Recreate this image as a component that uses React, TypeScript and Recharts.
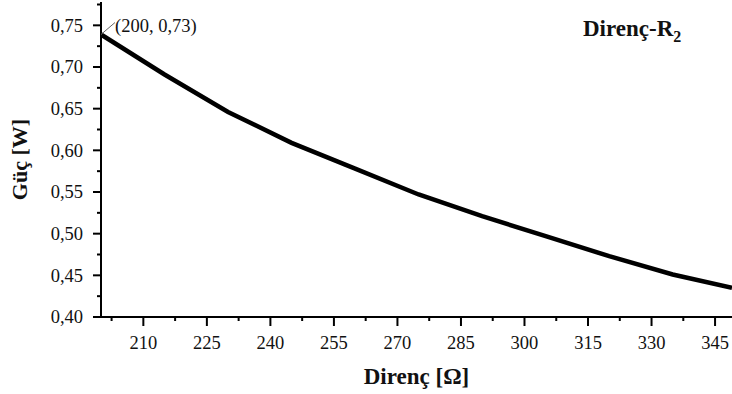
import React from "react";
import { LineChart, Line, XAxis, YAxis, ReferenceDot, Label } from "recharts";

const resistance = [200, 215, 230, 245, 260, 275, 290, 305, 320, 335, 349];
const power = [0.739, 0.691, 0.646, 0.609, 0.578, 0.547, 0.521, 0.497, 0.473, 0.451, 0.435];
const xMajorTicks = [210, 225, 240, 255, 270, 285, 300, 315, 330, 345];
const xMinorTicks = [202.5, 217.5, 232.5, 247.5, 262.5, 277.5, 292.5, 307.5, 322.5, 337.5];
const yMajorTicks = [0.4, 0.45, 0.5, 0.55, 0.6, 0.65, 0.7, 0.75];
const yMinorTicks = [0.425, 0.475, 0.525, 0.575, 0.625, 0.675, 0.725, 0.775];
const xLabel = "Direnç [Ω]";
const yLabel = "Güç [W]";
const annotation = "(200, 0,73)";
const seriesName = "Direnç-R";
const seriesSub = "2";

const data = resistance.map((r, i) => ({ r, p: power[i] }));
const FONT = "Times New Roman, Liberation Serif, DejaVu Serif, serif";

const isMajor = (v: number, list: number[]) => list.some((t) => Math.abs(t - v) < 1e-6);

const XTick = (props: any) => {
  const { x, y, payload } = props;
  const major = isMajor(payload.value, xMajorTicks);
  return (
    <g>
      <line x1={x} y1={y} x2={x} y2={y + (major ? 9 : 4)} stroke="#000" strokeWidth={2} />
      {major && (
        <text x={x} y={y + 32} textAnchor="middle" style={{ fontFamily: FONT }} fontSize={18.5} fill="#111">
          {payload.value}
        </text>
      )}
    </g>
  );
};

const YTick = (props: any) => {
  const { x, y, payload } = props;
  const major = isMajor(payload.value, yMajorTicks);
  return (
    <g>
      <line x1={x} y1={y} x2={x - (major ? 8 : 4)} y2={y} stroke="#000" strokeWidth={2} />
      {major && (
        <text x={x - 18} y={y} dy="0.35em" textAnchor="end" style={{ fontFamily: FONT }} fontSize={18.5} fill="#111">
          {payload.value.toFixed(2).replace(".", ",")}
        </text>
      )}
    </g>
  );
};

const AnnotationShape = (props: any) => {
  const { cx, cy } = props;
  if (cx == null || cy == null) return null;
  return (
    <g>
      <line x1={cx} y1={cy} x2={cx + 14} y2={cy - 12} stroke="#666" strokeWidth={1} />
      <text x={cx + 14} y={cy - 3} style={{ fontFamily: FONT }} fontSize={18.5} fill="#111">
        {annotation}
      </text>
    </g>
  );
};

export default function App() {
  const xTicks = [...xMinorTicks, ...xMajorTicks].sort((a, b) => a - b);
  const yTicks = [...yMinorTicks, ...yMajorTicks].sort((a, b) => a - b);
  return (
    <div style={{ position: "absolute", left: 0, top: 0, width: 732, height: 394, background: "#fff", fontFamily: FONT }}>
      <LineChart width={732} height={394} data={data} margin={{ top: 2, right: 0, bottom: 0, left: 0 }}>
        <XAxis
          dataKey="r"
          type="number"
          domain={[200, 349]}
          allowDataOverflow
          ticks={xTicks}
          interval={0}
          tickSize={0}
          tickMargin={0}
          tickLine={false}
          tick={<XTick />}
          height={77}
          axisLine={{ stroke: "#000", strokeWidth: 2 }}
        >
          <Label
            value={xLabel}
            position="insideBottom"
            offset={10}
            style={{ fontFamily: FONT, fontSize: 23, fontWeight: "bold", fill: "#111" }}
          />
        </XAxis>
        <XAxis
          xAxisId="top"
          orientation="top"
          type="number"
          domain={[200, 349]}
          height={0}
          tick={false}
          tickLine={false}
          axisLine={{ stroke: "#808080", strokeWidth: 2 }}
        />
        <YAxis
          type="number"
          domain={[0.4, 0.778]}
          allowDataOverflow
          ticks={yTicks}
          interval={0}
          tickSize={0}
          tickMargin={0}
          tickLine={false}
          tick={<YTick />}
          width={101}
          axisLine={{ stroke: "#000", strokeWidth: 2 }}
        >
          <Label
            value={yLabel}
            angle={-90}
            position="insideLeft"
            offset={19}
            style={{ fontFamily: FONT, fontSize: 22, fontWeight: "bold", fill: "#111", textAnchor: "middle" }}
          />
        </YAxis>
        <Line
          type="linear"
          dataKey="p"
          stroke="#000"
          strokeWidth={4.5}
          dot={false}
          isAnimationActive={false}
        />
        <ReferenceDot x={resistance[0]} y={power[0]} r={0} shape={<AnnotationShape />} />
      </LineChart>
      <svg
        width={732}
        height={394}
        style={{ position: "absolute", left: 0, top: 0, pointerEvents: "none" }}
      >
        <text x={583} y={36} style={{ fontFamily: FONT }} fontSize={23} fontWeight="bold" fill="#111">
          {seriesName}
          <tspan dy={6} fontSize={16}>
            {seriesSub}
          </tspan>
        </text>
      </svg>
    </div>
  );
}
